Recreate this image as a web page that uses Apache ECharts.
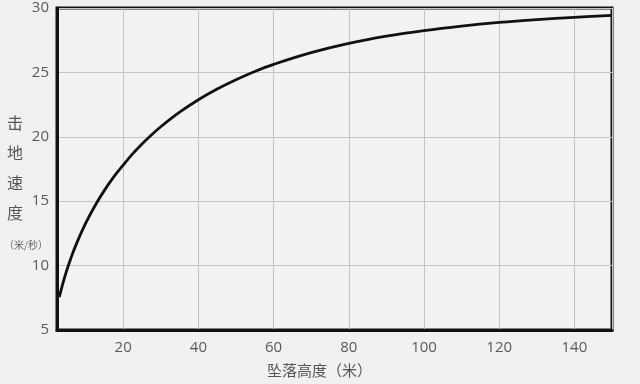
<!DOCTYPE html>
<html><head><meta charset="utf-8">
<script src="https://cdn.jsdelivr.net/npm/echarts@6/dist/echarts.min.js"></script>
<style>html,body{margin:0;padding:0;background:#f0f0f0;}#c{width:640px;height:384px;}</style>
</head><body><div id="c"></div>
<script>
const heights = [3, 4, 5, 6, 7.5, 10, 12.5, 15, 17.5, 20, 22.5, 25, 27.5, 30, 35, 40, 45, 50, 55, 60, 70, 80, 90, 100, 110, 120, 130, 140, 150];
const speeds  = [7.55, 8.66, 9.64, 10.5, 11.65, 13.27, 14.65, 15.84, 16.89, 17.8, 18.67, 19.44, 20.14, 20.78, 21.91, 22.88, 23.71, 24.43, 25.07, 25.62, 26.53, 27.25, 27.81, 28.25, 28.6, 28.88, 29.1, 29.28, 29.43];
const xTitle = '坠落高度（米）';
const yTitleChars = ['击', '地', '速', '度'];
const yUnit = '（米/秒）';

const chart = echarts.init(document.getElementById('c'), null, {renderer: 'canvas'});
const font = '"Open Sans", "Noto Sans CJK SC", sans-serif';
const graphics = yTitleChars.map((ch, i) => ({
  type: 'text', left: 7, top: 115 + i * 30,
  style: {text: ch, fill: '#555', font: '16px "Noto Sans CJK SC", sans-serif'}
}));
graphics.push({type: 'text', left: 4, top: 240, style: {text: yUnit, fill: '#666', font: '10px "Noto Sans CJK SC", sans-serif'}});
graphics.push({type: 'text', left: 267, top: 363, style: {text: xTitle, fill: '#555', font: '15px "Noto Sans CJK SC", sans-serif'}});

chart.setOption({
  backgroundColor: '#f0f0f0',
  animation: false,
  grid: {left: 57, right: 28, top: 8, bottom: 54, show: true, borderColor: '#111', borderWidth: 3, backgroundColor: '#f2f2f2'},
  xAxis: {
    type: 'value', min: 2.4, max: 150, splitNumber: 7,
    axisLine: {show: true, onZero: false, lineStyle: {color: '#111', width: 3}},
    axisTick: {show: false},
    axisLabel: {showMinLabel: false, showMaxLabel: false, color: '#5a5a5a', fontSize: 15, fontFamily: font, margin: 10},
    splitLine: {show: true, lineStyle: {color: '#c4c4c4', width: 1}}
  },
  yAxis: {
    type: 'value', min: 5, max: 30, interval: 5,
    axisLine: {show: true, lineStyle: {color: '#111', width: 3}},
    axisTick: {show: false},
    axisLabel: {color: '#5a5a5a', fontSize: 15, fontFamily: font, margin: 8},
    splitLine: {show: true, lineStyle: {color: '#c4c4c4', width: 1}}
  },
  graphic: graphics,
  series: [{
    type: 'line', smooth: 0.4, showSymbol: false,
    data: heights.map((h, i) => [h, speeds[i]]),
    lineStyle: {color: '#111', width: 2.8}
  }]
});
</script></body></html>
